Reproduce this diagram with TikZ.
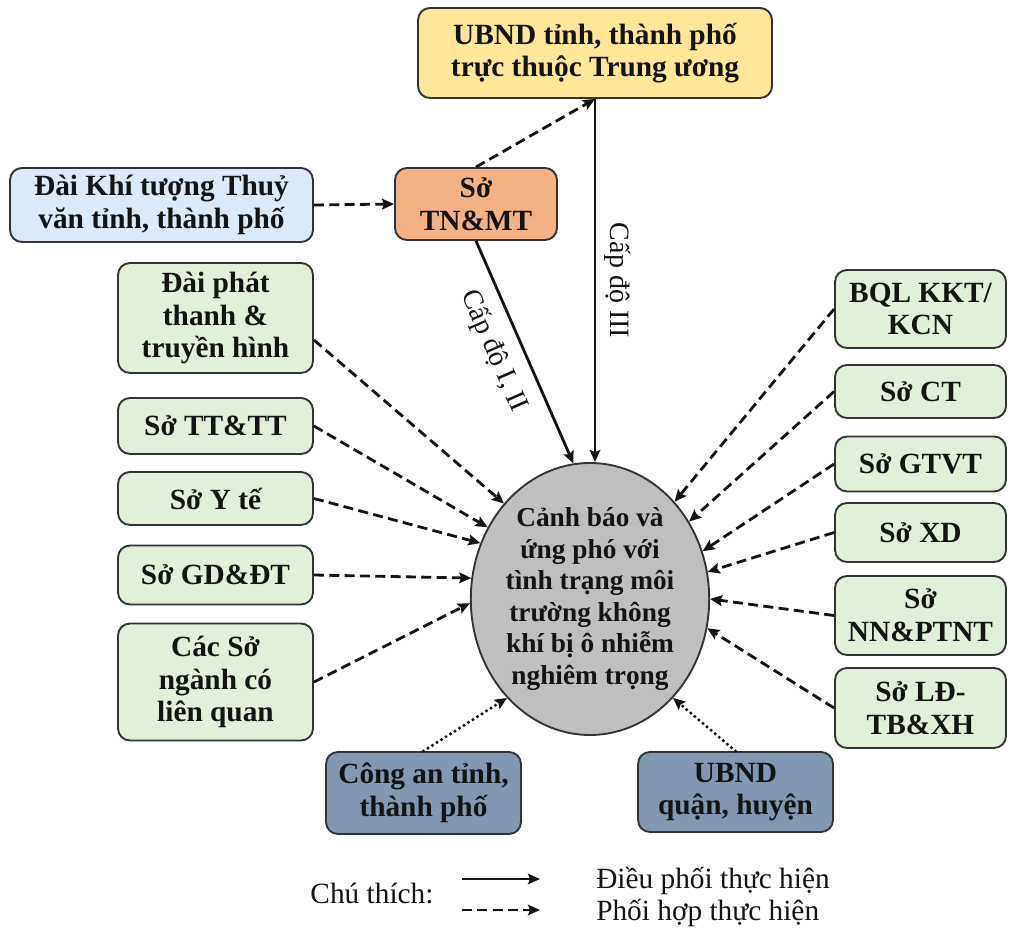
\documentclass[tikz,border=0pt]{standalone}
\usepackage{fontspec}
\setmainfont{Liberation Serif}
\usetikzlibrary{arrows.meta,calc,shapes.geometric}
\definecolor{cyel}{HTML}{FFE699}
\definecolor{cblue}{HTML}{DCE9F6}
\definecolor{corange}{HTML}{F4B183}
\definecolor{cgreen}{HTML}{E2EFDA}
\definecolor{cslate}{HTML}{8497B0}
\definecolor{cgray}{HTML}{BFBFBF}
\definecolor{cborder}{HTML}{333333}
\definecolor{ctext}{HTML}{141414}
\begin{document}
\begin{tikzpicture}[x=0.75pt,y=-0.75pt,
  box/.style={draw=cborder, line width=1.4pt, rounded corners=9pt, align=center,
    inner sep=0pt, text=ctext, font=\bfseries\fontsize{22}{24.5}\selectfont},
  wh/.style 2 args={minimum width=#1*0.75pt, minimum height=#2*0.75pt},
  tip/.style={-{Stealth[length=9pt,width=8pt,inset=1.5pt]}},
  sol/.style={tip, line width=2.1pt, draw=ctext},
  dsh/.style={tip, line width=2.1pt, draw=ctext, dash pattern=on 7.5pt off 4pt},
  dot/.style={tip, line width=2.6pt, draw=ctext, line cap=round, dash pattern=on 0pt off 4pt},
  lbl/.style={inner sep=0pt, text=ctext, font=\fontsize{21}{23.5}\selectfont},
  leg/.style={inner sep=0pt, text=ctext, font=\fontsize{22}{24}\selectfont}
]
\fill[white] (0,0) rectangle (1015,937);
\useasboundingbox (0,0) rectangle (1015,937);

% top nodes
\node[box, wh={354}{90}, fill=cyel] (ubnd) at (595,53) {UBND tỉnh, thành phố\\trực thuộc Trung ương};
\node[box, wh={303}{74}, fill=cblue] (dkt) at (161.5,205) {Đài Khí tượng Thuỷ\\văn tỉnh, thành phố};
\node[box, wh={162}{72}, fill=corange] (tn) at (476,204) {Sở\\TN\&MT};

% ellipse
\node[ellipse, draw=cborder, line width=1.4pt, fill=cgray, minimum width=236*0.75pt,
  minimum height=272*0.75pt, inner sep=0pt, align=center, text=ctext,
  font=\bfseries\fontsize{20.5}{23.6}\selectfont] (e) at (590,599)
  {Cảnh báo và\\ứng phó với\\tình trạng môi\\trường không\\khí bị ô nhiễm\\nghiêm trọng};

% left column
\node[box, wh={195}{110}, fill=cgreen] (dpt) at (215.5,318) {Đài phát\\thanh \&\\truyền hình};
\node[box, wh={195}{56}, fill=cgreen] (tt) at (215.5,426) {Sở TT\&TT};
\node[box, wh={195}{53}, fill=cgreen] (yte) at (215.5,498.5) {Sở Y tế};
\node[box, wh={195}{59}, fill=cgreen] (gd) at (215.5,575) {Sở GD\&ĐT};
\node[box, wh={195}{117}, fill=cgreen] (cac) at (215.5,682) {Các Sở\\ngành có\\liên quan};

% right column
\node[box, wh={171}{78}, fill=cgreen] (bql) at (920.5,309) {BQL KKT/\\KCN};
\node[box, wh={171}{53}, fill=cgreen] (ct) at (920.5,391.5) {Sở CT};
\node[box, wh={171}{55}, fill=cgreen] (gt) at (920.5,464) {Sở GTVT};
\node[box, wh={171}{59}, fill=cgreen] (xd) at (920.5,532.5) {Sở XD};
\node[box, wh={171}{79}, fill=cgreen] (nn) at (920.5,615.5) {Sở\\NN\&PTNT};
\node[box, wh={171}{80}, fill=cgreen] (ld) at (920.5,708) {Sở LĐ-\\TB\&XH};

% bottom
\node[box, wh={195}{82}, fill=cslate] (ca) at (423.5,793) {Công an tỉnh,\\thành phố};
\node[box, wh={195}{80}, fill=cslate] (uq) at (735.5,792) {UBND\\quận, huyện};

% connectors top
\draw[dsh] (dkt.east) -- (tn.west);
\draw[dsh] (tn.north) -- (ubnd.south);
\draw[sol] (ubnd.south) -- node[pos=0.5, sloped, allow upside down, above=6pt, lbl] {Cấp độ III} (ubnd.south |- e.north);
\draw[sol] (tn.south) -- node[pos=0.445, sloped, below=10pt, lbl] {Cấp độ I, II} (e.97);

% left connectors
\coordinate (dptout) at ($(dpt.east)+(0,22)$);
\draw[dsh] (dptout) -- (e.132);
\draw[dsh] (tt.east) -- (e.145);
\draw[dsh] (yte.east) -- (e.153);
\draw[dsh] (gd.east) -- (e.170);
\draw[dsh] (cac.east) -- (e.182);

% right connectors
\draw[dsh] (bql.west) -- (e.49);
\draw[dsh] (ct.west) -- (e.38);
\draw[dsh] (gt.west) -- (e.23);
\draw[dsh] (xd.west) -- (e.13);
\draw[dsh] (nn.west) -- (e.0);
\draw[dsh] (ld.west) -- (e.-14);

% bottom connectors
\draw[dot] (ca.north) -- (e.230);
\draw[dot] (uq.north) -- (e.-50);

% legend
\node[leg] (legt) at (372,894) {Chú thích:};
\coordinate (l1a) at (462,879);
\coordinate (l1b) at (540,879);
\coordinate (l2a) at (462,910);
\coordinate (l2b) at (540,910);
\draw[sol] (l1a) -- (l1b);
\draw[dsh] (l2a) -- (l2b);
\node[leg, anchor=west] (t1) at (596,881) {Điều phối thực hiện};
\node[leg, anchor=west] (t2) at (596,913) {Phối hợp thực hiện};
\end{tikzpicture}
\end{document}
